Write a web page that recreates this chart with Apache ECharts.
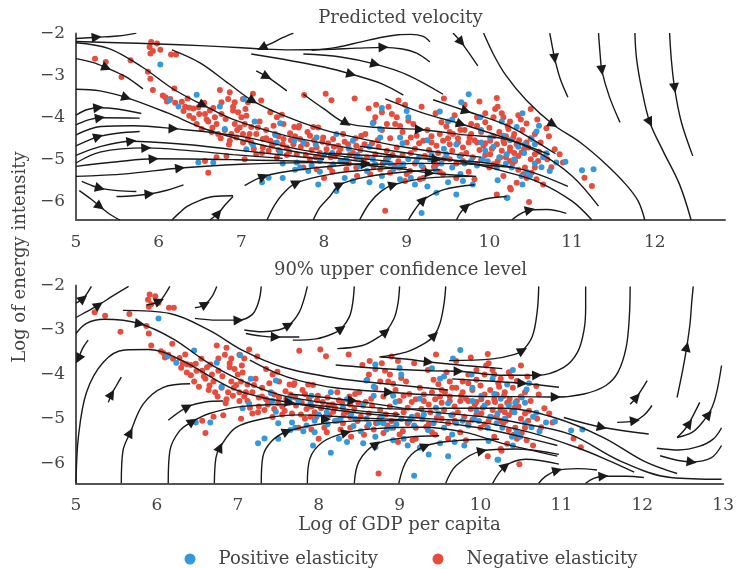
<!DOCTYPE html>
<html><head><meta charset="utf-8">
<script src="https://cdn.jsdelivr.net/npm/echarts@6/dist/echarts.min.js"></script>
<style>html,body{margin:0;padding:0;background:#fff}#c{width:737px;height:569px}</style>
</head><body><div id="c"></div>
<script>
const FONT = 'DejaVu Serif';
const TXT = '#444';
const xTicksTop = [5,6,7,8,9,10,11,12];
const xTicksBottom = [5,6,7,8,9,10,11,12,13];
const yTicks = [-6,-5,-4,-3,-2];
const titles = ['Predicted velocity', '90% upper confidence level'];
const seriesNames = ['Positive elasticity', 'Negative elasticity'];

// Scatter: positive elasticity (blue)
const posPoints = [
[6.02,-2.74],[6.46,-3.46],[6.24,-3.74],[6.13,-3.59],[6.74,-3.74],[7.03,-3.57],[7.16,-4.10],[7.47,-4.14],[7.41,-4.42],[7.06,-4.76],[7.14,-4.66],[7.43,-4.60],[7.47,-4.84],[7.64,-4.56],[6.48,-5.08],[6.66,-5.08],[7.33,-5.44],[7.71,-5.20],[6.80,-4.28],
[9.66,-3.64],[9.40,-3.86],[9.02,-4.00],[8.59,-4.14],[9.89,-4.00],[10.01,-4.48],[8.92,-4.48],[8.68,-4.48],[8.35,-4.56],[8.15,-4.40],[7.91,-4.48],[7.75,-4.60],[7.67,-5.08],[7.95,-5.04],[8.11,-5.12],[8.27,-5.00],[8.43,-5.16],[8.59,-5.00],[8.74,-5.08],[8.84,-5.24],[8.96,-5.12],[9.12,-5.04],[9.28,-5.00],[9.48,-4.88],[9.64,-4.92],[9.78,-5.04],[9.92,-5.00],[10.09,-5.20],[10.21,-4.88],[10.17,-4.44],[7.93,-5.60],[8.15,-5.76],[8.35,-5.52],[8.70,-5.64],[8.92,-5.48],[9.10,-5.60],[9.36,-5.80],[9.60,-5.84],[9.68,-5.52],[9.18,-6.28],[10.21,-5.92],[8.52,-5.28],[7.81,-5.28],[8.68,-4.28],
[10.33,-4.23],[10.57,-4.34],[10.43,-4.64],[10.51,-4.52],[10.55,-4.64],[10.69,-4.86],[10.81,-5.08],[10.92,-5.06],[10.73,-5.28],[10.63,-5.19],[10.49,-5.40],[10.39,-5.40],[11.12,-5.26],[11.26,-5.24],[10.22,-5.92],[10.27,-5.20],
[8.0,-4.9],[8.2,-5.05],[8.45,-5.0],[8.62,-5.12],[8.78,-4.95],[8.9,-5.2],[9.02,-5.0],[9.18,-5.15],[9.3,-4.9],[9.42,-5.1],[9.55,-5.2],[9.7,-5.1],[9.85,-5.15],[9.98,-5.05],[10.12,-4.95],[10.3,-5.0],[10.42,-4.85],[10.55,-5.1],[9.6,-4.65],[9.9,-4.6],[10.05,-4.7],[10.25,-4.55],[10.35,-4.7],[9.45,-4.75],[8.55,-4.7],[8.3,-4.75],[7.85,-5.15],[7.65,-5.25],[7.5,-5.1],[7.95,-5.3],[8.7,-5.4],[9.05,-5.45],[9.25,-5.65],[9.5,-5.55],[9.8,-5.6],[10.1,-5.5],[10.4,-5.6],[8.55,-5.55],[8.25,-5.45],[9.9,-4.3],[10.15,-4.1],[9.55,-4.05],[8.7,-3.78],[10.4,-3.9],[9.75,-3.45],[9.0,-3.85],[7.5,-5.45],[7.25,-5.55],
[8.1,-4.85],[8.4,-4.9],[8.8,-5.1],[9.15,-4.95],[9.35,-5.25],[9.65,-5.35],[9.95,-4.8],[10.2,-5.1],[10.45,-5.3],[10.65,-4.95],[8.95,-4.62],[9.25,-4.55],[7.9,-4.65],[10.6,-4.2],[9.5,-4.1]
];

// Scatter: negative elasticity (red)
const negPoints = [
[5.91,-2.20],[5.98,-2.24],[5.89,-2.32],[5.93,-2.42],[6.02,-2.39],[5.90,-2.48],[6.15,-2.50],[6.21,-2.50],[5.23,-2.60],[5.36,-2.68],[5.66,-2.64],[5.55,-3.04],[5.87,-2.91],[5.90,-3.08],[5.93,-3.35],[6.19,-3.31],[6.05,-3.48],[6.08,-3.52],[6.14,-3.56],[6.32,-3.75],[6.37,-3.77],[6.42,-3.79],[6.48,-3.76],[6.37,-3.96],[6.49,-3.92],[6.56,-3.92],[6.46,-4.16],[6.52,-4.28],[6.62,-3.84],[6.68,-4.00],[6.74,-3.35],[6.86,-3.40],[6.76,-3.64],[6.84,-3.56],[6.92,-3.64],[6.70,-4.16],[6.76,-3.92],[6.81,-4.04],[6.90,-3.84],[6.96,-3.88],[7.00,-4.00],[7.06,-3.96],[7.02,-3.56],[7.08,-3.64],[7.14,-3.44],[7.24,-3.60],[6.92,-4.16],[6.98,-4.24],[7.04,-4.16],[7.12,-4.23],[7.20,-4.24],[6.88,-4.40],[6.94,-4.48],[7.02,-4.40],[7.10,-4.40],[7.18,-4.40],[6.86,-4.56],[7.02,-4.60],[7.12,-4.60],[7.26,-4.52],[7.35,-3.88],[7.43,-4.00],[7.49,-3.94],[7.39,-4.20],[7.51,-4.16],[7.41,-4.40],[7.35,-4.56],[7.51,-4.52],[7.59,-4.38],[7.26,-4.72],[7.18,-4.88],[7.37,-4.68],[7.55,-4.72],[7.63,-4.64],[7.69,-4.24],[7.43,-4.96],[6.70,-4.95],[6.82,-4.92],[6.56,-5.04],[6.60,-5.32],[7.04,-5.00],
[6.28,-3.63],[6.55,-3.65],[6.60,-4.10],[6.65,-4.25],[6.72,-4.40],[6.80,-4.30],[6.66,-3.78],
[7.76,-3.47],[8.02,-3.44],[8.09,-3.59],[8.37,-3.55],[8.54,-3.79],[8.63,-3.70],[8.78,-3.75],[8.62,-4.00],[8.70,-3.88],[8.60,-4.12],[8.76,-4.16],[8.88,-4.00],[8.86,-4.16],[8.92,-4.21],[9.02,-4.08],[9.08,-4.16],[9.42,-4.12],[9.56,-4.40],[9.62,-4.16],[9.78,-4.16],[9.85,-4.00],[9.95,-4.12],[10.05,-4.00],[10.09,-3.54],[10.07,-3.80],[10.17,-4.00],[7.64,-4.23],[7.70,-4.20],[7.87,-4.23],[7.93,-4.24],[7.83,-4.44],[7.99,-4.48],[8.11,-4.52],[8.23,-4.40],[8.45,-4.44],[8.49,-4.64],[8.39,-4.68],[8.29,-4.64],[8.17,-4.68],[8.03,-4.76],[7.91,-4.72],[7.79,-4.64],[7.71,-4.52],[7.67,-4.88],[7.83,-5.00],[7.97,-4.96],[8.13,-4.92],[8.23,-5.04],[8.39,-4.96],[8.62,-4.88],[8.76,-4.80],[8.88,-4.72],[9.00,-4.60],[9.12,-4.44],[9.20,-4.56],[9.30,-4.60],[9.36,-4.68],[9.44,-4.56],[9.52,-4.64],[9.62,-4.60],[9.68,-4.72],[9.76,-4.48],[9.85,-4.60],[9.93,-4.68],[10.01,-4.56],[10.09,-4.64],[10.17,-4.56],[10.25,-4.72],[10.33,-4.64],[10.01,-4.88],[10.13,-4.96],[10.25,-5.04],[9.85,-5.12],[9.68,-5.04],[9.52,-5.00],[9.36,-5.12],[9.20,-5.20],[9.04,-5.28],[8.92,-5.20],[8.80,-5.32],[8.68,-5.24],[8.56,-5.36],[8.39,-5.20],[8.27,-5.24],[8.07,-5.20],[7.91,-5.24],[7.75,-5.20],[8.74,-6.23],[8.98,-5.52],[9.16,-5.48],[9.44,-5.36],[9.82,-5.48],[10.17,-5.40],[10.25,-5.68],[10.09,-5.84],
[10.69,-4.26],[10.23,-4.28],[10.29,-4.48],[10.35,-4.64],[10.25,-4.80],[10.39,-4.84],[10.47,-4.72],[10.55,-4.88],[10.59,-5.04],[10.79,-4.76],[10.85,-4.88],[10.89,-5.08],[10.75,-5.19],[10.65,-5.60],[10.57,-5.48],[10.41,-5.36],[10.33,-5.56],[10.26,-5.72],[11.15,-5.44],[11.24,-5.64],[10.48,-6.02],[10.31,-5.04],[10.43,-5.20],[10.51,-5.32],
[8.05,-4.62],[8.18,-4.84],[8.31,-4.9],[8.44,-4.78],[8.52,-4.95],[8.66,-4.7],[8.71,-5.1],[8.83,-4.9],[8.9,-5.05],[9.05,-4.85],[9.1,-5.1],[9.22,-4.92],[9.27,-4.78],[9.33,-5.18],[9.46,-4.98],[9.55,-4.8],[9.6,-5.1],[9.72,-4.85],[9.8,-4.95],[9.88,-4.78],[9.95,-4.9],[10.03,-4.75],[10.1,-5.05],[10.15,-4.8],[10.2,-4.95],[10.28,-5.1],[10.35,-4.92],[10.42,-4.75],[10.5,-5.0],[10.6,-4.82],[9.7,-4.3],[9.78,-4.4],[9.9,-4.35],[10.0,-4.25],[10.12,-4.35],[10.22,-4.2],[10.3,-4.4],[10.4,-4.3],[10.5,-4.5],[9.82,-4.55],[9.95,-4.62],[10.05,-4.45],[10.18,-4.62],[10.36,-4.55],[9.52,-4.35],[9.62,-4.5],[9.4,-4.4],[9.25,-4.3],[9.15,-4.62],[9.05,-4.48],[8.95,-4.35],[8.8,-4.5],[8.65,-4.55],[8.5,-4.4],[8.38,-4.5],[8.25,-4.58],[8.12,-4.7],[7.98,-4.58],[7.85,-4.78],[7.78,-4.9],[7.72,-4.7],[7.6,-4.55],[7.55,-4.9],[7.45,-4.78],[7.4,-4.62],[7.3,-4.5],[7.25,-4.85],[8.1,-5.3],[8.3,-5.1],[8.6,-5.18],[8.85,-5.15],[9.0,-5.35],[9.4,-5.3],[9.75,-5.3],[10.0,-5.2],[10.35,-5.25],[10.45,-5.45],[9.6,-5.45],[9.2,-5.45],[8.4,-5.4],[8.0,-5.45],[7.9,-4.95],[9.48,-4.22],[9.58,-3.95],[9.35,-3.9],[9.18,-3.75],[8.98,-3.7],[8.82,-3.92],[8.7,-4.3],[9.65,-4.3],[9.85,-4.2],[10.25,-4.1],[10.45,-4.15],[10.55,-4.4],[10.62,-4.6],[10.72,-4.45],[10.1,-3.75],[9.95,-3.9],[10.35,-3.95],[10.58,-4.05],[9.7,-3.7],[9.45,-3.55],[8.9,-3.6],
[6.3,-3.85],[6.42,-4.02],[6.58,-4.05],[6.64,-4.35],[6.75,-4.5],[6.85,-4.65],[6.95,-4.3],[7.08,-4.5],[7.15,-4.75],[7.22,-4.1],[7.3,-4.3],[7.33,-4.8],[7.45,-4.45],[7.5,-4.65],[7.58,-4.82],[7.65,-4.45],[7.8,-4.35],[7.88,-4.55],[7.95,-4.85],[8.08,-4.95],[8.2,-4.75],[8.35,-4.85],[8.48,-5.05],[8.58,-4.62],[8.75,-5.0],[8.95,-4.9],[9.1,-4.75],[9.3,-4.45],[9.38,-4.85],[9.5,-4.5],[9.66,-4.9],[9.75,-4.6],[9.9,-5.02],[10.05,-5.12],[10.2,-4.45],[10.3,-4.85],[10.45,-4.6],[10.55,-5.2],[10.7,-5.0],[10.38,-4.05],[10.15,-3.9],[9.88,-3.62],[10.5,-3.8],[6.9,-3.75],[7.05,-3.8],[6.2,-3.65],[6.35,-3.55],[6.1,-3.62]
];

// Streamlines, top panel (predicted velocity)
const streamTop = [
[[5.0,-2.12],[5.25,-2.09],[5.5,-2.06],[5.65,-2.02],[5.73,-1.99]],
[[5.0,-2.19],[5.5,-2.22],[6.0,-2.25],[6.5,-2.29],[7.0,-2.34],[7.25,-2.37],[7.6,-2.39],[8.0,-2.38],[8.4,-2.35],[8.72,-2.33],[8.95,-2.37],[9.12,-2.47],[9.28,-2.68]],
[[7.85,-2.4],[8.15,-2.33],[8.45,-2.2],[8.7,-2.09],[8.9,-2.03],[9.05,-2.02],[9.2,-2.07],[9.28,-2.2]],
[[7.63,-1.99],[7.5,-2.1],[7.35,-2.25],[7.2,-2.38]],
[[5.0,-2.6],[5.2,-2.69],[5.37,-2.82],[5.6,-3.03],[5.81,-3.32]],
[[5.0,-2.22],[5.4,-2.36],[5.8,-2.8],[6.18,-3.33],[6.54,-3.71],[6.9,-4.05],[7.5,-4.42],[8.0,-4.62],[8.55,-4.82],[9.0,-4.95],[9.4,-5.02]],
[[6.16,-2.39],[6.5,-2.7],[6.85,-3.2],[7.14,-3.61],[7.5,-3.95],[8.0,-4.3],[8.55,-4.55],[9.0,-4.72],[9.5,-4.86],[9.9,-4.95]],
[[7.12,-2.49],[7.6,-2.65],[8.0,-2.8],[8.33,-2.97],[8.7,-3.2],[8.96,-3.47]],
[[7.75,-2.49],[8.2,-2.56],[8.62,-2.73],[9.0,-2.98],[9.44,-3.45]],
[[7.18,-2.89],[7.31,-3.03],[7.55,-3.37]],
[[7.75,-3.45],[8.0,-3.8],[8.27,-4.14],[8.7,-4.25],[9.16,-4.29],[9.7,-4.42],[10.19,-4.52],[10.6,-4.85],[11.0,-5.4],[11.32,-6.12]],
[[8.74,-3.56],[9.2,-3.9],[9.66,-4.16],[10.2,-4.5],[10.73,-4.89]],
[[9.32,-3.58],[9.72,-3.85],[10.2,-4.18],[10.5,-4.5],[10.8,-4.87]],
[[9.56,-1.99],[9.66,-2.21],[9.86,-2.77]],
[[9.93,-1.99],[10.05,-2.5],[10.2,-3.0],[10.45,-3.6],[10.77,-4.17],[11.1,-4.6],[11.4,-5.1],[11.65,-5.6],[11.8,-6.0],[11.88,-6.45]],
[[10.73,-1.99],[10.76,-2.3],[10.79,-2.6],[10.86,-3.1],[10.95,-3.52]],
[[11.32,-1.99],[11.34,-2.5],[11.36,-2.88],[11.45,-3.5],[11.58,-4.12]],
[[11.76,-1.99],[11.78,-2.6],[11.84,-3.3],[11.94,-4.12],[12.1,-4.8],[12.3,-5.6],[12.44,-6.45]],
[[12.18,-1.99],[12.2,-2.6],[12.24,-3.3],[12.32,-4.1],[12.46,-4.92]],
[[5.0,-3.33],[5.29,-3.37],[5.61,-3.53],[6.1,-3.89],[6.58,-4.29],[7.31,-4.69],[8.0,-4.93],[8.55,-5.08]],
[[5.0,-3.95],[5.13,-3.82],[5.27,-3.77],[5.5,-3.8],[5.79,-3.91]],
[[5.0,-4.18],[5.15,-4.06],[5.3,-4.01],[5.77,-4.02]],
[[5.0,-4.42],[5.3,-4.22],[5.7,-4.2],[6.18,-4.27],[6.98,-4.45],[7.71,-4.77],[8.3,-4.95],[8.8,-5.05]],
[[5.0,-4.68],[5.15,-4.55],[5.27,-4.46],[5.5,-4.38],[5.77,-4.34]],
[[5.0,-4.91],[5.29,-4.7],[5.67,-4.57],[6.34,-4.65],[6.9,-4.77],[7.5,-4.9],[8.0,-5.0]],
[[5.0,-5.09],[5.29,-4.83],[5.85,-4.73],[6.4,-4.8],[6.9,-4.89],[7.5,-4.98]],
[[5.0,-5.17],[5.5,-5.06],[5.94,-4.99],[6.9,-5.01],[7.8,-5.05],[8.51,-5.12],[9.2,-5.1],[9.8,-5.12],[10.3,-5.2]],
[[5.0,-5.41],[5.6,-5.35],[6.26,-5.21],[7.0,-5.12],[7.8,-5.08],[8.3,-5.09]],
[[5.07,-5.53],[5.18,-5.62],[5.29,-5.69],[5.5,-5.75],[5.73,-5.77]],
[[5.49,-5.89],[5.7,-5.87],[5.89,-5.83],[6.1,-5.74],[6.3,-5.61]],
[[5.04,-5.75],[5.18,-5.95],[5.29,-6.13],[5.4,-6.3],[5.53,-6.45]],
[[6.16,-6.45],[6.25,-6.28],[6.34,-6.13],[6.5,-5.98],[6.66,-5.89],[6.9,-5.87]],
[[6.62,-6.45],[6.72,-6.29],[6.8,-6.1],[6.9,-5.89]],
[[7.04,-5.63],[7.27,-5.41],[7.7,-5.25],[8.55,-5.09]],
[[7.31,-6.45],[7.4,-6.1],[7.51,-5.81],[7.67,-5.56],[8.1,-5.35],[8.55,-5.25],[9.0,-5.2]],
[[7.87,-6.45],[7.95,-6.15],[8.07,-5.89],[8.19,-5.61],[8.55,-5.41],[9.0,-5.3],[9.4,-5.25]],
[[8.43,-6.45],[8.55,-6.05],[8.7,-5.75],[8.84,-5.61],[9.24,-5.45],[9.8,-5.41]],
[[9.02,-6.45],[9.1,-6.2],[9.2,-5.97],[9.44,-5.73],[9.82,-5.61]],
[[9.6,-6.45],[9.65,-6.28],[9.72,-6.13],[9.95,-5.95],[10.21,-5.89]],
[[10.27,-6.45],[10.38,-6.3],[10.49,-6.21],[10.7,-6.2],[10.93,-6.29]],
[[8.0,-4.85],[8.7,-4.93],[9.36,-5.0],[10.0,-5.1],[10.5,-5.3],[10.95,-5.65]],
[[8.43,-4.69],[9.0,-4.85],[9.4,-4.97],[9.9,-5.15],[10.2,-5.3],[10.6,-5.55],[11.0,-6.0],[11.24,-6.45]],
[[8.43,-5.13],[8.9,-5.22],[9.28,-5.33],[9.84,-5.41]]
];
// arrow heads, top panel: [fromX, fromY, toX, toY]
const arrowsTop = [
[5.19,-2.10,5.25,-2.09],[8.66,-2.335,8.72,-2.33],[7.31,-2.28,7.25,-2.34],[5.31,-2.77,5.37,-2.82],
[6.48,-3.65,6.54,-3.71],[7.09,-3.55,7.14,-3.61],[8.27,-2.94,8.33,-2.97],[8.56,-2.70,8.62,-2.73],
[7.27,-2.99,7.31,-3.03],[8.23,-4.09,8.27,-4.14],[9.1,-4.285,9.16,-4.29],[9.6,-4.12,9.66,-4.16],
[9.66,-3.81,9.72,-3.85],[9.63,-2.14,9.66,-2.21],[10.72,-4.11,10.77,-4.17],[10.785,-2.52,10.79,-2.6],
[11.355,-2.8,11.36,-2.88],[11.92,-4.04,11.94,-4.12],[12.235,-3.22,12.24,-3.3],[5.55,-3.49,5.61,-3.53],
[5.21,-3.785,5.27,-3.77],[5.23,-4.03,5.29,-4.01],[6.12,-4.265,6.18,-4.27],[5.21,-4.5,5.27,-4.46],
[5.61,-4.585,5.67,-4.57],[5.79,-4.735,5.85,-4.73],[5.88,-5.0,5.94,-4.99],[8.45,-5.115,8.51,-5.12],
[6.2,-5.225,6.26,-5.21],[5.23,-5.66,5.29,-5.69],[5.83,-5.84,5.89,-5.83],[5.25,-6.07,5.29,-6.13],
[6.69,-6.36,6.72,-6.29],[7.22,-5.45,7.27,-5.41],[7.63,-5.6,7.67,-5.56],[8.15,-5.65,8.19,-5.61],
[8.79,-5.64,8.84,-5.61],[9.17,-6.03,9.2,-5.97],[9.69,-6.18,9.72,-6.13],[10.44,-6.235,10.49,-6.21],
[9.3,-4.99,9.36,-5.0],[9.22,-5.32,9.28,-5.33]
];

// Streamlines, bottom panel (90% upper confidence level)
const streamBottom = [
[[5.0,-2.40],[5.05,-2.34],[5.09,-2.29],[5.14,-2.17],[5.19,-2.02]],
[[5.0,-2.72],[5.12,-2.6],[5.26,-2.46],[5.45,-2.24],[5.65,-2.02]],
[[5.87,-2.44],[5.95,-2.41],[6.03,-2.36],[6.1,-2.2],[6.16,-2.02]],
[[6.47,-2.5],[6.55,-2.47],[6.6,-2.42],[6.68,-2.25],[6.74,-2.02]],
[[6.47,-2.74],[6.74,-2.78],[7.0,-2.78],[7.18,-2.65],[7.26,-2.35],[7.29,-2.02]],
[[7.08,-3.0],[7.3,-3.04],[7.5,-3.0],[7.64,-2.88],[7.76,-2.6],[7.82,-2.3],[7.86,-2.02]],
[[7.1,-3.08],[7.3,-3.14],[7.47,-3.16],[7.76,-3.16]],
[[7.68,-3.23],[7.97,-3.2],[8.18,-3.08],[8.28,-2.97],[8.38,-2.7],[8.42,-2.4],[8.44,-2.02]],
[[8.23,-3.42],[8.54,-3.35],[8.75,-3.15],[8.83,-3.04],[8.93,-2.75],[8.98,-2.4],[9.0,-2.02]],
[[8.75,-3.61],[9.08,-3.5],[9.33,-3.28],[9.43,-3.12],[9.5,-2.85],[9.55,-2.4],[9.57,-2.02]],
[[9.61,-3.69],[10.15,-3.65],[10.4,-3.56],[10.52,-3.46],[10.64,-3.15],[10.7,-2.6],[10.72,-2.02]],
[[8.21,-3.79],[8.87,-3.88],[9.4,-3.92],[9.73,-3.93],[10.29,-4.02],[10.7,-4.02],[11.03,-3.84],[11.2,-3.5],[11.28,-3.0],[11.3,-2.5],[11.3,-2.02]],
[[8.77,-3.61],[9.1,-3.66],[9.36,-3.72],[9.8,-3.8],[10.27,-3.87]],
[[7.15,-3.68],[7.45,-3.95],[7.76,-4.14],[8.2,-4.3],[8.87,-4.4],[9.5,-4.47],[10.1,-4.5],[10.5,-4.5],[10.93,-4.51],[11.28,-4.44],[11.55,-4.25],[11.7,-3.95],[11.8,-3.4],[11.84,-2.7],[11.85,-2.02]],
[[9.65,-4.1],[10.1,-4.15],[10.52,-4.2],[10.97,-4.29]],
[[12.43,-4.52],[12.5,-3.9],[12.55,-3.38],[12.59,-2.86],[12.61,-2.4],[12.63,-2.02]],
[[11.85,-4.67],[11.93,-4.51],[12.06,-4.14]],
[[11.69,-5.08],[11.91,-5.04],[12.02,-4.92],[12.12,-4.7]],
[[11.03,-4.97],[11.5,-5.19],[12.08,-5.34]],
[[12.43,-5.42],[12.62,-5.3],[12.76,-5.04],[12.86,-4.75],[12.92,-4.4],[12.98,-3.8]],
[[12.43,-5.42],[12.52,-5.25],[12.57,-5.12],[12.65,-4.85],[12.71,-4.63]],
[[12.18,-5.66],[12.45,-5.7],[12.7,-5.62],[12.88,-5.45],[12.98,-5.2]],
[[12.22,-5.83],[12.61,-5.97],[12.85,-5.88],[12.98,-5.6]],
[[5.0,-3.08],[5.13,-2.85],[5.35,-2.76],[5.79,-2.86],[6.2,-3.2],[6.6,-3.7],[7.0,-4.1],[7.5,-4.45],[8.0,-4.62],[8.5,-4.72],[9.0,-4.78],[9.6,-4.76],[10.29,-4.76],[10.91,-4.97],[11.52,-5.42],[12.02,-5.95],[12.43,-6.23]],
[[7.64,-4.44],[8.42,-4.59],[9.28,-4.82],[10.1,-4.97],[10.5,-5.1],[11.11,-5.35],[11.73,-5.95],[12.35,-6.32],[12.98,-6.36]],
[[5.0,-6.45],[5.03,-5.4],[5.13,-4.4],[5.34,-3.72],[5.6,-3.45],[5.9,-3.44],[6.3,-3.68],[6.9,-4.29],[7.3,-4.52],[7.64,-4.63],[8.2,-4.8],[8.8,-4.92],[9.4,-5.0],[10.0,-5.08],[10.6,-5.3],[11.2,-5.65],[11.6,-5.95],[11.9,-6.2]],
[[5.58,-2.56],[6.16,-2.63],[6.65,-3.01],[7.06,-3.46],[7.56,-3.84],[8.2,-4.08],[8.87,-4.22],[9.6,-4.35]],
[[5.15,-3.23],[5.08,-3.42],[5.03,-3.65]],
[[5.40,-4.63],[5.44,-4.44],[5.5,-4.25],[5.56,-4.06]],
[[5.56,-6.45],[5.58,-5.72],[5.67,-5.31],[5.83,-4.67],[6.08,-4.29],[6.41,-4.21]],
[[6.14,-5.03],[6.38,-4.73],[6.6,-4.62],[6.82,-4.6]],
[[6.14,-6.45],[6.16,-5.72],[6.28,-5.27],[6.43,-5.07],[6.65,-4.88],[7.06,-4.72],[7.76,-4.67],[8.5,-4.82],[9.0,-4.9]],
[[6.71,-6.45],[6.73,-5.87],[6.78,-5.64],[6.98,-5.19],[7.39,-4.97],[7.76,-4.91],[8.5,-4.98],[9.2,-5.03]],
[[7.29,-6.45],[7.31,-5.85],[7.42,-5.5],[7.6,-5.29],[8.0,-5.12],[8.6,-5.04],[9.2,-5.04],[9.94,-5.19],[10.5,-5.4],[10.95,-5.6]],
[[7.86,-6.45],[7.89,-5.9],[8.05,-5.52],[8.34,-5.31],[8.7,-5.22],[9.28,-5.19],[9.8,-5.3],[10.31,-5.57],[10.95,-5.84]],
[[8.44,-6.45],[8.5,-5.95],[8.71,-5.57],[9.08,-5.42],[9.49,-5.38]],
[[8.99,-6.45],[9.1,-5.9],[9.32,-5.61],[9.65,-5.5],[10.23,-5.46]],
[[9.57,-6.45],[9.7,-6.05],[10.02,-5.72],[10.43,-5.68],[10.97,-5.8]],
[[10.15,-6.45],[10.31,-6.06],[10.56,-5.91],[10.97,-6.02]],
[[10.72,-6.45],[10.8,-6.3],[10.95,-6.16],[11.2,-6.12],[11.44,-6.15]],
[[11.3,-6.45],[11.4,-6.34],[11.52,-6.29],[11.8,-6.29],[12.02,-6.32]]
];
const arrowsBottom = [
[5.07,-2.32,5.09,-2.29],[5.24,-2.49,5.28,-2.44],[5.98,-2.39,6.03,-2.35],[6.56,-2.46,6.6,-2.42],
[6.95,-2.785,7.01,-2.78],[7.58,-2.94,7.63,-2.89],[7.41,-3.155,7.47,-3.16],[8.24,-3.02,8.28,-2.97],
[8.79,-3.1,8.83,-3.04],[9.39,-3.19,9.43,-3.12],[10.47,-3.51,10.52,-3.46],[9.67,-3.93,9.73,-3.93],
[10.64,-4.025,10.7,-4.02],[9.3,-3.71,9.36,-3.72],[8.81,-4.395,8.87,-4.4],[10.87,-4.51,10.93,-4.51],
[10.46,-4.195,10.52,-4.2],[12.54,-3.46,12.55,-3.38],[11.9,-4.57,11.93,-4.51],[11.85,-5.055,11.91,-5.04],
[11.44,-5.165,11.5,-5.19],[12.79,-4.97,12.82,-4.9],[12.55,-5.18,12.58,-5.1],[12.55,-5.955,12.61,-5.97],
[5.73,-2.845,5.79,-2.86],[8.36,-4.58,8.42,-4.59],[7.58,-4.62,7.64,-4.63],[5.05,-3.58,5.03,-3.65],
[5.42,-4.5,5.44,-4.44],[5.65,-5.38,5.67,-5.31],[6.33,-4.78,6.38,-4.73],[6.39,-5.12,6.44,-5.06],
[6.76,-5.72,6.78,-5.64],[7.55,-5.33,7.61,-5.28],[8.28,-5.34,8.34,-5.31],[8.67,-5.62,8.71,-5.57],
[9.27,-5.65,9.32,-5.61],[9.97,-5.74,10.02,-5.72],[10.27,-6.12,10.31,-6.06],[10.89,-6.19,10.95,-6.16],
[11.46,-6.3,11.52,-6.29],[8.03,-5.01,8.09,-5.01]
];

const LINE = '#1a1a1a';
const fmt = v => String(v).replace('-', '\u2212');
const labelStyle = {fontFamily: FONT, fontSize: 17, color: TXT};
function xAxisCfg(grid, max, ticks, extra) {
  return Object.assign({
    gridIndex: grid, type: 'value', min: 5, max: max,
    axisLine: {show: true, onZero: false, lineStyle: {color: '#555', width: 2}},
    axisTick: {show: false}, splitLine: {show: false},
    axisLabel: Object.assign({customValues: ticks, margin: 14, formatter: fmt, showMaxLabel: true}, labelStyle)
  }, extra || {});
}
function yAxisCfg(grid) {
  return {
    gridIndex: grid, type: 'value', min: -6.45, max: -2,
    axisLine: {show: true, onZero: false, lineStyle: {color: '#555', width: 2}},
    axisTick: {show: false}, splitLine: {show: false},
    axisLabel: Object.assign({customValues: yTicks, margin: 11, formatter: fmt}, labelStyle)
  };
}
function streamSeries(idx, lines, arrows) {
  const out = lines.map(c => ({
    type: 'line', xAxisIndex: idx, yAxisIndex: idx, data: c, smooth: 0.35, symbol: 'none',
    silent: true, z: 5, clip: true, lineStyle: {color: LINE, width: 1.4}
  }));
  out.push({type: 'lines', coordinateSystem: 'cartesian2d', xAxisIndex: idx, yAxisIndex: idx, silent: true, z: 6,
     symbol: ['none', 'triangle'], symbolSize: 10,
     lineStyle: {color: LINE, width: 1.4, opacity: 1}, data: arrows.map(a => ({coords: [[a[0], a[1]], [a[2], a[3]]]}))});
  return out;
}
function scatterSeries(idx) {
  return [
    {type: 'scatter', name: seriesNames[1], xAxisIndex: idx, yAxisIndex: idx, data: negPoints, symbolSize: 6, silent: true, z: 3,
     itemStyle: {color: '#e74c3c', opacity: 1}},
    {type: 'scatter', name: seriesNames[0], xAxisIndex: idx, yAxisIndex: idx, data: posPoints, symbolSize: 6, silent: true, z: 3,
     itemStyle: {color: '#3498db', opacity: 1}}
  ];
}
const titleStyle = {fontFamily: FONT, fontSize: 18, fontWeight: 'normal', color: TXT};
const legendText = {fontFamily: FONT, fontSize: 18, color: TXT, padding: [0, 0, 0, 18]};
const chart = echarts.init(document.getElementById('c'), null, {renderer: 'canvas'});
chart.setOption({
  animation: false,
  backgroundColor: '#fff',
  title: [
    {text: titles[0], left: 400.5, top: 9, textAlign: 'center', padding: 0, textStyle: titleStyle},
    {text: titles[1], left: 400.5, top: 261, textAlign: 'center', padding: 0, textStyle: titleStyle}
  ],
  legend: [
    {data: [{name: seriesNames[0], icon: 'circle'}], left: 179.5, top: 545, itemWidth: 11, itemHeight: 11, selectedMode: false, textStyle: legendText},
    {data: [{name: seriesNames[1], icon: 'circle'}], left: 427.5, top: 545, itemWidth: 11, itemHeight: 11, selectedMode: false, textStyle: legendText}
  ],
  grid: [
    {left: 76, top: 33.5, width: 649, height: 186.5},
    {left: 76, top: 285.5, width: 649, height: 197.8}
  ],
  xAxis: [
    xAxisCfg(0, 12.85, xTicksTop),
    xAxisCfg(1, 13, xTicksBottom, {name: 'Log of GDP per capita', nameLocation: 'middle', nameGap: 33,
      nameTextStyle: {fontFamily: FONT, fontSize: 18, color: TXT}})
  ],
  yAxis: [yAxisCfg(0), yAxisCfg(1)],
  graphic: [{
    type: 'text', x: 20, y: 257, rotation: Math.PI / 2, silent: true,
    style: {text: 'Log of energy intensity', fontFamily: FONT, fontSize: 18, fill: TXT, align: 'center', verticalAlign: 'middle'}
  }],
  series: [].concat(scatterSeries(0), scatterSeries(1), streamSeries(0, streamTop, arrowsTop), streamSeries(1, streamBottom, arrowsBottom))
});
</script></body></html>
